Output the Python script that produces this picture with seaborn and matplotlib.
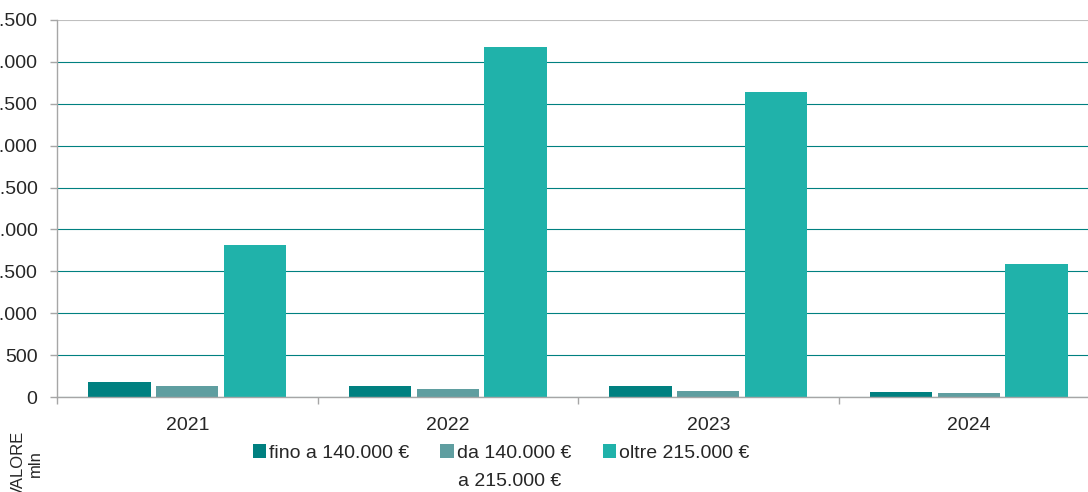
import matplotlib
matplotlib.use('Agg')
import matplotlib.pyplot as plt
import seaborn as sns
import pandas as pd
import numpy as np
from matplotlib.ticker import FuncFormatter

years = ['2021', '2022', '2023', '2024']
fino_140 = [180, 130, 130, 56]
da_140_a_215 = [135, 100, 72, 44]
oltre_215 = [1810, 4180, 3635, 1583]
series_names = ['fino a 140.000 €', 'da 140.000 €', 'oltre 215.000 €']
colors = ['#008080', '#5F9EA0', '#20B2AA']
y_ticks = list(range(0, 5000, 500))

df = pd.DataFrame({
    'anno': years * 3,
    'fascia': [n for n in series_names for _ in years],
    'valore': fino_140 + da_140_a_215 + oltre_215,
})

sns.set_style('ticks')
plt.rcParams['font.family'] = ['Liberation Sans', 'DejaVu Sans']

fig = plt.figure(figsize=(10.88, 4.92), dpi=100)
ax = fig.add_axes([57 / 1088, 95 / 492, 1042 / 1088, 377 / 492])

sns.barplot(data=df, x='anno', y='valore', hue='fascia', palette=colors,
            saturation=1, width=0.78, gap=0.08, linewidth=0, ax=ax)

ax.set_xlim(-0.5, len(years) - 0.5)
ax.set_ylim(0, 4500)
ax.set_xlabel('')
ax.set_ylabel('')

# category labels in the middle, tick marks between groups
ax.set_xticks(np.arange(len(years) + 1) - 0.5, labels=[])
ax.set_xticks(range(len(years)), labels=years, minor=True)
ax.tick_params(axis='x', which='minor', length=0, pad=14.5, labelsize=14)
ax.tick_params(axis='x', which='major', length=5, width=1, color='#A6A6A6', direction='out')

ax.set_yticks(y_ticks)
ax.yaxis.set_major_formatter(FuncFormatter(lambda v, p: f'{int(v):,}'.replace(',', '.')))
ax.tick_params(axis='y', length=5, width=1, pad=9, labelsize=14, color='#A6A6A6', direction='out')

ax.yaxis.grid(True, color='#008080', linewidth=0.8)
ax.set_axisbelow(True)
ax.get_ygridlines()[-1].set_color('#BFBFBF')

for side in ['top', 'right']:
    ax.spines[side].set_visible(False)
for side in ['left', 'bottom']:
    ax.spines[side].set_color('#A6A6A6')
    ax.spines[side].set_linewidth(1)

handles, labels = ax.get_legend_handles_labels()
ax.get_legend().remove()
leg = fig.legend(handles, labels, loc='center', bbox_to_anchor=(501 / 1088, 39 / 492),
                 ncol=3, frameon=False, fontsize=14, handlelength=0.7, handleheight=0.7,
                 handletextpad=0.15, columnspacing=1.6, borderpad=0)

# second line of the middle legend label, centred under the first
fig.canvas.draw()
bb = leg.get_texts()[1].get_window_extent()
fig.text((bb.x0 + bb.x1) / 2 / fig.bbox.width - 5 / 1088, 5.5 / 492, 'a 215.000 €',
         ha='center', va='baseline', fontsize=14)

fig.text(27 / 1088, 28 / 492, 'VALORE\nmln', rotation=90, ha='center', va='center',
         multialignment='center', fontsize=12, linespacing=1.1)

plt.savefig('out.png', dpi=100)
plt.close()
